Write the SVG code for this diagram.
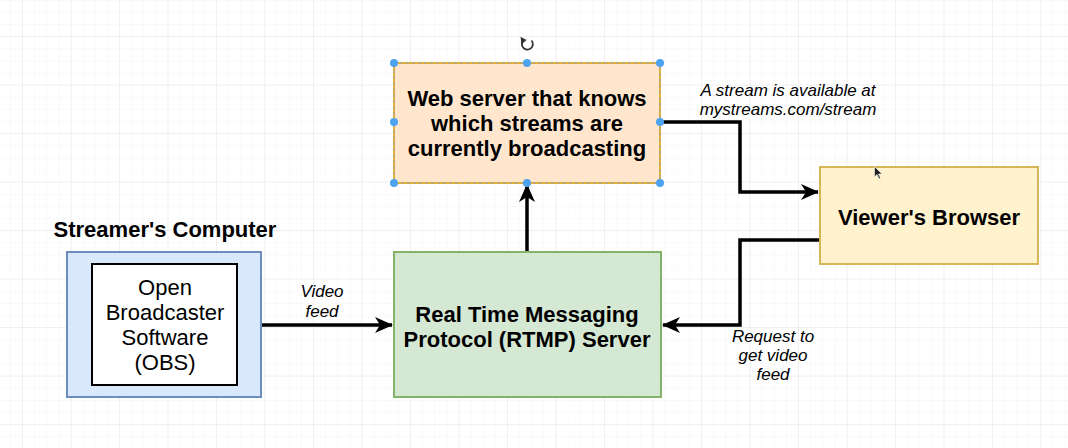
<svg xmlns="http://www.w3.org/2000/svg" width="1068" height="448" viewBox="0 0 1068 448">
<defs>
<pattern id="minor" x="22" y="12" width="12.125" height="12.125" patternUnits="userSpaceOnUse">
<path d="M0 0H12.125M0 0V12.125" fill="none" stroke="#f3f3f3" stroke-width="1"/>
</pattern>
<pattern id="major" x="22" y="36" width="48.5" height="48.5" patternUnits="userSpaceOnUse">
<path d="M0 0H48.5M0 0V48.5" fill="none" stroke="#e8e8e8" stroke-width="1"/>
</pattern>
<marker id="arr" viewBox="0 0 18 16" refX="17" refY="8" markerWidth="18" markerHeight="16" markerUnits="userSpaceOnUse" orient="auto">
<path d="M0 0L18 8L0 16L5 8Z" fill="#000"/>
</marker>
<style>
.t{font-family:"Liberation Sans",Arial,sans-serif;text-anchor:middle;fill:#000}
.b{font-weight:bold;font-size:22px}
.n{font-size:22px}
.i{font-style:italic;font-size:17px}
.edge{fill:none;stroke:#000;stroke-width:3.5}
.h{fill:#4da3f0}
</style>
</defs>
<rect width="1068" height="448" fill="#fff"/>
<rect width="1068" height="448" fill="url(#minor)"/>
<rect width="1068" height="448" fill="url(#major)"/>

<g id="connectors">
<path class="edge" d="M237 325H392" marker-end="url(#arr)"/>
<path class="edge" d="M527 252V185" marker-end="url(#arr)"/>
<path class="edge" d="M660 122H740V192H818" marker-end="url(#arr)"/>
<path class="edge" d="M820 240H740V325H663" marker-end="url(#arr)"/>
<text class="t i" x="322" y="297">Video</text>
<text class="t i" x="322" y="317">feed</text>
<text class="t i" x="788" y="96">A stream is available at</text>
<text class="t i" x="788" y="115">mystreams.com/stream</text>
<text class="t i" x="773" y="342">Request to</text>
<text class="t i" x="773" y="361">get video</text>
<text class="t i" x="773" y="380">feed</text>
</g>

<g id="web-server">
<rect x="394" y="63" width="266" height="120" fill="#ffe6cc" stroke="#d79b00" stroke-width="1.5"/>
<rect x="394" y="63" width="266" height="120" fill="none" stroke="#a0a0a0" stroke-width="1" stroke-dasharray="3 3"/>
<text class="t b" x="527" y="106">Web server that knows</text>
<text class="t b" x="527" y="131">which streams are</text>
<text class="t b" x="527" y="156">currently broadcasting</text>
<circle class="h" cx="394" cy="63" r="4"/><circle class="h" cx="527" cy="63" r="4"/><circle class="h" cx="660" cy="63" r="4"/>
<circle class="h" cx="394" cy="122" r="4"/><circle class="h" cx="660" cy="122" r="4"/>
<circle class="h" cx="394" cy="183" r="4"/><circle class="h" cx="527" cy="183" r="4"/><circle class="h" cx="660" cy="183" r="4"/>
<path d="M531.5 40.5A5.5 5.5 0 1 1 523.5 40.2" fill="none" stroke="#333" stroke-width="1.8"/>
<path d="M520.5 36.8L526.5 40L521.5 44.5Z" fill="#333"/>
</g>

<g id="streamers-computer">
<text class="t b" x="165" y="237">Streamer's Computer</text>
<rect x="67" y="252" width="194" height="145" fill="#dae8fc" stroke="#6c8ebf" stroke-width="2"/>
</g>

<g id="obs">
<rect x="92" y="264" width="145" height="121" fill="#fff" stroke="#000" stroke-width="2"/>
<text class="t n" x="165" y="295">Open</text>
<text class="t n" x="165" y="320">Broadcaster</text>
<text class="t n" x="165" y="345">Software</text>
<text class="t n" x="165" y="370">(OBS)</text>
</g>

<g id="rtmp-server">
<rect x="394" y="252" width="267" height="145" fill="#d5e8d4" stroke="#82b366" stroke-width="2"/>
<text class="t b" x="527" y="322">Real Time Messaging</text>
<text class="t b" x="527" y="347">Protocol (RTMP) Server</text>
</g>

<g id="viewers-browser">
<rect x="820" y="167" width="218" height="97" fill="#fff2cc" stroke="#d6b656" stroke-width="2"/>
<text class="t b" x="929" y="225">Viewer's Browser</text>
</g>

<g id="cursor">
<path d="M874.5 166.5V177L877 174.5L879 179L880.5 178.3L878.6 174H882Z" fill="#222" stroke="#fff" stroke-width="0.6"/>
</g>
</svg>
